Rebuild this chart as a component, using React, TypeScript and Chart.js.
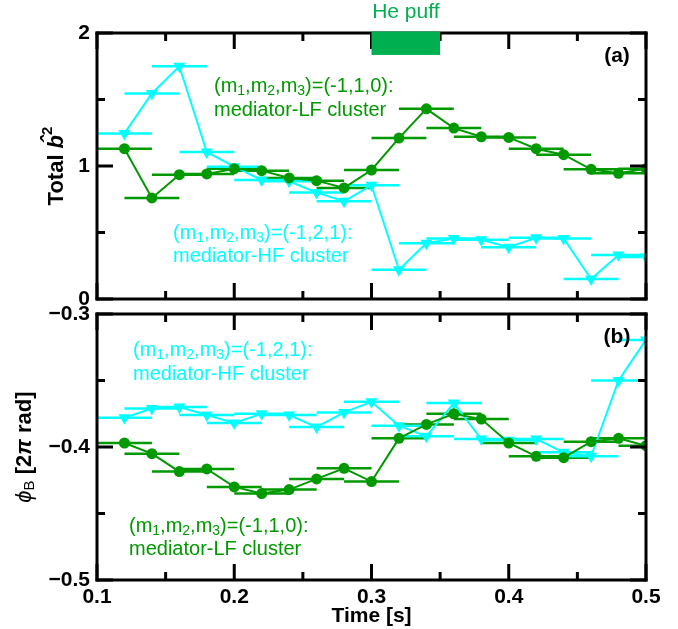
import React, { useEffect, useRef } from 'react';
import { Chart, registerables } from 'chart.js';
Chart.register(...registerables);

// ---- data ----
const times = [0.12, 0.14, 0.16, 0.18, 0.2, 0.22, 0.24, 0.26, 0.28, 0.3, 0.32, 0.34, 0.36, 0.38, 0.4, 0.42, 0.44, 0.46, 0.48, 0.5];
const ampLF = [1.13, 0.76, 0.935, 0.94, 0.98, 0.965, 0.91, 0.89, 0.835, 0.97, 1.21, 1.43, 1.285, 1.22, 1.215, 1.13, 1.085, 0.975, 0.945, 0.98];
const ampHF = [1.245, 1.545, 1.75, 1.105, 0.995, 0.895, 0.885, 0.8, 0.735, 0.855, 0.22, 0.42, 0.455, 0.445, 0.39, 0.46, 0.455, 0.15, 0.33, 0.315];
const phaseLF = [-0.397, -0.405, -0.4185, -0.4165, -0.43, -0.435, -0.432, -0.424, -0.416, -0.426, -0.3935, -0.383, -0.375, -0.379, -0.397, -0.407, -0.408, -0.396, -0.3935, -0.399];
const phaseHF = [-0.378, -0.371, -0.37, -0.376, -0.382, -0.375, -0.376, -0.385, -0.374, -0.366, -0.384, -0.392, -0.367, -0.394, -0.395, -0.394, -0.404, -0.407, -0.35, -0.3195];
const timeHalfWidth = 0.02;

const xMajor = [0.1, 0.2, 0.3, 0.4, 0.5];
const xMinor = [0.15, 0.25, 0.35, 0.45];
const ampMajor = [0, 1, 2];
const ampMinor = [0.5, 1.5];
const phaseMajor = [-0.5, -0.4, -0.3];
const phaseMinor = [-0.45, -0.35];
const puffTime = [0.3, 0.35];
const puffLevel = [2.0, 1.835];

// ---- styles ----
const GREEN = '#009900';
const CYAN = '#00ffff';
const PUFF = '#00b050';
const SANS = '"Liberation Sans", Arial, "DejaVu Sans", sans-serif';

type Seg = { t: string; font: string; dy?: number; hat?: boolean };

function drawRich(ctx: CanvasRenderingContext2D, segs: Seg[], x: number, y: number, color: string, align: 'left' | 'center') {
  ctx.save();
  ctx.fillStyle = color;
  ctx.textBaseline = 'middle';
  ctx.textAlign = 'left';
  let total = 0;
  for (const s of segs) { ctx.font = s.font; total += ctx.measureText(s.t).width; }
  let cx = align === 'center' ? x - total / 2 : x;
  for (const s of segs) {
    ctx.font = s.font;
    const w = ctx.measureText(s.t).width;
    ctx.fillText(s.t, cx, y + (s.dy || 0));
    if (s.hat) {
      ctx.textAlign = 'center';
      ctx.fillText('\u02C6', cx + w / 2 + 2, y - 6);
      ctx.textAlign = 'left';
    }
    cx += w;
  }
  ctx.restore();
}

function mLabel(nums: string, size = 20): Seg[] {
  const f = `${size}px ${SANS}`;
  const sf = `${Math.round(size * 0.68)}px ${SANS}`;
  return [
    { t: '(m', font: f }, { t: '1', font: sf, dy: 5 },
    { t: ',m', font: f }, { t: '2', font: sf, dy: 5 },
    { t: ',m', font: f }, { t: '3', font: sf, dy: 5 },
    { t: `)=(${nums}):`, font: f },
  ];
}

function errBars(xs: number[], ys: number[], hw: number) {
  const pts: any[] = [];
  xs.forEach((x, i) => {
    pts.push({ x: x - hw, y: ys[i] }, { x: x + hw, y: ys[i] }, { x, y: null });
  });
  return pts;
}

function series(xs: number[], ys: number[]) {
  return xs.map((x, i) => ({ x, y: ys[i] }));
}

function drawFrame(chart: any, yMajor: number[], yMinor: number[]) {
  const ctx: CanvasRenderingContext2D = chart.ctx;
  const a = chart.chartArea;
  const xs = chart.scales.x;
  const ys = chart.scales.y;
  const L = Math.round(a.left), R = Math.round(a.right), T = Math.round(a.top), B = Math.round(a.bottom);
  const lw = 3, tw = 3;
  ctx.save();
  ctx.fillStyle = '#000';
  ctx.fillRect(L - 1.5, T - 1.5, R - L + 3, lw);
  ctx.fillRect(L - 1.5, B - 1.5, R - L + 3, lw);
  ctx.fillRect(L - 1.5, T - 1.5, lw, B - T + 3);
  ctx.fillRect(R - 1.5, T - 1.5, lw, B - T + 3);
  const xt = (v: number, len: number) => {
    const p = xs.getPixelForValue(v);
    ctx.fillRect(p - tw / 2, B - len, tw, len);
    ctx.fillRect(p - tw / 2, T, tw, len);
  };
  const yt = (v: number, len: number) => {
    const p = ys.getPixelForValue(v);
    ctx.fillRect(L, p - tw / 2, len, tw);
    ctx.fillRect(R - len, p - tw / 2, len, tw);
  };
  for (const v of xMajor) xt(v, 16);
  for (const v of xMinor) xt(v, 8);
  for (const v of yMajor) yt(v, 16);
  for (const v of yMinor) yt(v, 8);
  ctx.restore();
}

function datasets(lf: number[], hf: number[]) {
  return [
    { data: series(times, lf), borderColor: GREEN, backgroundColor: GREEN, borderWidth: 2, pointStyle: 'circle', pointRadius: 5.5, pointBorderWidth: 0, pointBackgroundColor: GREEN, order: 1 },
    { data: series(times, hf), borderColor: CYAN, backgroundColor: CYAN, borderWidth: 2, pointStyle: 'triangle', rotation: 180, pointRadius: 7, pointBorderWidth: 0, pointBackgroundColor: CYAN, order: 2 },
    { data: errBars(times, hf, timeHalfWidth), borderColor: CYAN, borderWidth: 2.5, pointRadius: 0, spanGaps: false, order: 3 },
    { data: errBars(times, lf, timeHalfWidth), borderColor: GREEN, borderWidth: 2.5, pointRadius: 0, spanGaps: false, order: 4 },
  ];
}

const tickFont = { family: SANS, size: 21, weight: 'bold' as const };
const fmtMinus = (v: number, d: number) => (v < 0 ? '\u2212' + Math.abs(v).toFixed(d) : v.toFixed(d));
const noPadY = (s: any) => { s.width = 97; s.paddingTop = 0; s.paddingBottom = 0; };

export default function App() {
  const topRef = useRef<HTMLCanvasElement>(null);
  const botRef = useRef<HTMLCanvasElement>(null);

  useEffect(() => {
    const top = new Chart(topRef.current!, {
      type: 'line',
      data: { datasets: datasets(ampLF, ampHF) as any },
      options: {
        animation: false,
        responsive: false,
        maintainAspectRatio: false,
        layout: { padding: { left: 0, right: 32, top: 33, bottom: 11 } },
        plugins: { legend: { display: false }, tooltip: { enabled: false } },
        scales: {
          x: { type: 'linear', min: 0.1, max: 0.5, display: false },
          y: {
            type: 'linear', min: 0, max: 2,
            afterFit: noPadY,
            afterBuildTicks: (s: any) => { s.ticks = ampMajor.map((v) => ({ value: v })); },
            grid: { display: false, drawTicks: false },
            border: { display: false },
            ticks: { font: tickFont, color: '#000', padding: 7, callback: (v: any) => fmtMinus(Number(v), 0) },
          },
        },
      },
      plugins: [
        {
          id: 'decorTop',
          afterDraw(chart: any) {
            const { ctx, scales } = chart;
            drawFrame(chart, ampMajor, ampMinor);
            const x0 = scales.x.getPixelForValue(puffTime[0]);
            const x1 = scales.x.getPixelForValue(puffTime[1]);
            const y0 = scales.y.getPixelForValue(puffLevel[0]) - 1.5;
            const y1 = scales.y.getPixelForValue(puffLevel[1]);
            ctx.save();
            ctx.fillStyle = PUFF;
            ctx.fillRect(x0, y0, x1 - x0, y1 - y0);
            ctx.restore();
            drawRich(ctx, [{ t: 'He puff', font: `21px ${SANS}` }], (x0 + x1) / 2, 12, PUFF, 'center');
            drawRich(ctx, [{ t: '(a)', font: `bold 21px ${SANS}` }], 617, 56, '#000', 'center');
            drawRich(ctx, mLabel('-1,1,0'), 214, 86, GREEN, 'left');
            drawRich(ctx, [{ t: 'mediator-LF cluster', font: `20px ${SANS}` }], 214, 110, GREEN, 'left');
            drawRich(ctx, mLabel('-1,2,1'), 173, 233, CYAN, 'left');
            drawRich(ctx, [{ t: 'mediator-HF cluster', font: `20px ${SANS}` }], 173, 256, CYAN, 'left');
            ctx.save();
            ctx.translate(57, 166);
            ctx.rotate(-Math.PI / 2);
            drawRich(ctx, [
              { t: 'Total ', font: `bold 22px ${SANS}` },
              { t: 'b', font: `italic bold 22px ${SANS}`, hat: true },
              { t: '2', font: `bold 15px ${SANS}`, dy: -9 },
            ], 0, 0, '#000', 'center');
            ctx.restore();
          },
        },
      ],
    } as any);

    const bot = new Chart(botRef.current!, {
      type: 'line',
      data: { datasets: datasets(phaseLF, phaseHF) as any },
      options: {
        animation: false,
        responsive: false,
        maintainAspectRatio: false,
        layout: { padding: { left: 0, right: 32, top: 14, bottom: 0 } },
        plugins: { legend: { display: false }, tooltip: { enabled: false } },
        scales: {
          x: {
            type: 'linear', min: 0.1, max: 0.5,
            afterFit: (s: any) => { s.height = 49; s.paddingLeft = 0; s.paddingRight = 0; },
            afterBuildTicks: (s: any) => { s.ticks = xMajor.map((v) => ({ value: v })); },
            grid: { display: false, drawTicks: false },
            border: { display: false },
            ticks: { font: tickFont, color: '#000', padding: 5, autoSkip: false, maxRotation: 0, callback: (v: any) => Number(v).toFixed(1) },
            title: { display: true, text: 'Time [s]', color: '#000', font: { family: SANS, size: 21, weight: 'bold' }, padding: { top: 0, bottom: 0 } },
          },
          y: {
            type: 'linear', min: -0.5, max: -0.3,
            afterFit: noPadY,
            afterBuildTicks: (s: any) => { s.ticks = phaseMajor.map((v) => ({ value: v })); },
            grid: { display: false, drawTicks: false },
            border: { display: false },
            ticks: { font: tickFont, color: '#000', padding: 7, callback: (v: any) => fmtMinus(Number(v), 1) },
          },
        },
      },
      plugins: [
        {
          id: 'decorBot',
          afterDraw(chart: any) {
            const { ctx } = chart;
            drawFrame(chart, phaseMajor, phaseMinor);
            drawRich(ctx, [{ t: '(b)', font: `bold 21px ${SANS}` }], 617, 37, '#000', 'center');
            drawRich(ctx, mLabel('-1,2,1'), 133, 50, CYAN, 'left');
            drawRich(ctx, [{ t: 'mediator-HF cluster', font: `20px ${SANS}` }], 133, 74, CYAN, 'left');
            drawRich(ctx, mLabel('-1,1,0'), 129, 226, GREEN, 'left');
            drawRich(ctx, [{ t: 'mediator-LF cluster', font: `20px ${SANS}` }], 129, 249, GREEN, 'left');
            ctx.save();
            ctx.translate(25, 147);
            ctx.rotate(-Math.PI / 2);
            drawRich(ctx, [
              { t: '\u03D5', font: `italic 22px ${SANS}` },
              { t: 'B', font: `15px ${SANS}`, dy: 5 },
              { t: ' [2', font: `bold 22px ${SANS}` },
              { t: '\u03C0', font: `italic bold 22px ${SANS}` },
              { t: ' rad]', font: `bold 22px ${SANS}` },
            ], 0, 0, '#000', 'center');
            ctx.restore();
          },
        },
      ],
    } as any);

    return () => { top.destroy(); bot.destroy(); };
  }, []);

  return (
    <div style={{ position: 'absolute', left: 0, top: 0, width: 678, height: 629, background: '#fff' }}>
      <canvas ref={topRef} width={678} height={310} style={{ position: 'absolute', left: 0, top: 0, width: 678, height: 310 }} />
      <canvas ref={botRef} width={678} height={329} style={{ position: 'absolute', left: 0, top: 300, width: 678, height: 329 }} />
    </div>
  );
}
